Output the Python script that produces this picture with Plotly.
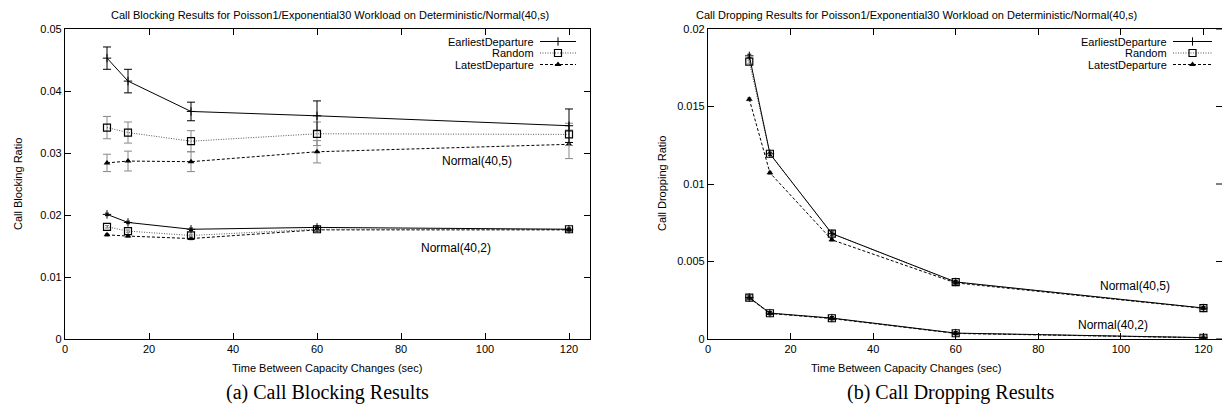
import plotly.graph_objects as go

W, H = 1222, 412

# ---------------- data ----------------
x_vals = [10, 15, 30, 60, 120]

# Call blocking, Normal(40,5)
blk5_ed = [0.0453, 0.0416, 0.0367, 0.0360, 0.0344]
blk5_ed_err = [0.0018, 0.0019, 0.0015, 0.0024, 0.0027]
blk5_rnd = [0.0341, 0.0333, 0.0319, 0.0331, 0.0330]
blk5_rnd_err = [0.0018, 0.0017, 0.0017, 0.0019, 0.0018]
blk5_ld = [0.0284, 0.0287, 0.0286, 0.0302, 0.0314]
blk5_ld_err = [0.0014, 0.0016, 0.0016, 0.0018, 0.0023]
# Call blocking, Normal(40,2)
blk2_ed = [0.0201, 0.0188, 0.0177, 0.0180, 0.0177]
blk2_rnd = [0.0181, 0.0174, 0.0167, 0.0177, 0.0177]
blk2_ld = [0.0168, 0.0166, 0.0162, 0.0176, 0.0176]
blk2_err = [0.0002, 0.0002, 0.0002, 0.0002, 0.0002]

# Call dropping, Normal(40,5)
drp5_ed = [0.01827, 0.01195, 0.0068, 0.00368, 0.00200]
drp5_rnd = [0.01789, 0.01195, 0.0068, 0.00367, 0.00199]
drp5_ld = [0.01547, 0.01072, 0.0064, 0.00362, 0.00198]
# Call dropping, Normal(40,2)
drp2_ed = [0.00268, 0.00167, 0.00135, 0.00038, 0.00009]
drp2_rnd = [0.00267, 0.00166, 0.00134, 0.00037, 0.00008]
drp2_ld = [0.00265, 0.00165, 0.00132, 0.00036, 0.00008]
drp_err = [0.0001, 0.0001, 0.0001, 0.0001, 0.0001]

series_names = ["EarliestDeparture", "Random", "LatestDeparture"]
blk_ticks = [0, 0.01, 0.02, 0.03, 0.04, 0.05]
blk_tick_text = ["0", "0.01", "0.02", "0.03", "0.04", "0.05"]
drp_ticks = [0, 0.005, 0.01, 0.015, 0.02]
drp_tick_text = ["0", "0.005", "0.01", "0.015", "0.02"]
x_ticks = [0, 20, 40, 60, 80, 100, 120]

# ---------------- styles ----------------
FONT = "Liberation Sans, Arial, sans-serif"
SERIF = "Liberation Serif, Times New Roman, serif"
styles = [
    dict(line=dict(color="black", width=1), marker=dict(symbol="cross-thin", size=6, color="black", line=dict(width=1, color="black")), errc="black"),
    dict(line=dict(color="#555", width=1, dash="1px,1.5px"), marker=dict(symbol="square-open", size=7, color="black", line=dict(width=1.2, color="black")), errc="#888"),
    dict(line=dict(color="black", width=1, dash="3px,2px"), marker=dict(symbol="triangle-up", size=6, color="black", line=dict(width=0)), errc="#888"),
]

fig = go.Figure()

def add_series(y, err, style, xa, ya, capw=3):
    fig.add_trace(go.Scatter(
        x=x_vals, y=y, mode="lines+markers", xaxis=xa, yaxis=ya,
        line=style["line"], marker=style["marker"], showlegend=False,
        error_y=dict(type="data", array=err, visible=True, color=style["errc"], thickness=1, width=capw),
    ))

# left plot
for y, e, s in [(blk5_ld, blk5_ld_err, styles[2]), (blk5_rnd, blk5_rnd_err, styles[1]), (blk5_ed, blk5_ed_err, styles[0])]:
    add_series(y, e, s, "x", "y", capw=4)
for y, s in [(blk2_ld, styles[2]), (blk2_rnd, styles[1]), (blk2_ed, styles[0])]:
    add_series(y, blk2_err, s, "x", "y", capw=2)

# right plot
for y, s in [(drp5_ld, styles[2]), (drp5_rnd, styles[1]), (drp5_ed, styles[0])]:
    add_series(y, drp_err, s, "x2", "y2", capw=2)
for y, s in [(drp2_ld, styles[2]), (drp2_rnd, styles[1]), (drp2_ed, styles[0])]:
    add_series(y, drp_err, s, "x2", "y2", capw=2)

# key samples (gnuplot-style: text then sample) on a pixel-coordinate overlay axis
key_rows = [41.5, 53, 64.5]
key_boxes = [(536, 540, 576), (1169, 1173, 1212)]
annotations = []
for (tx, x0, x1) in key_boxes:
    for row, name, s in zip(key_rows, series_names, styles):
        fig.add_trace(go.Scatter(x=[x0, x1], y=[row, row], mode="lines", line=s["line"],
                                 xaxis="x3", yaxis="y3", showlegend=False, hoverinfo="skip"))
        fig.add_trace(go.Scatter(x=[(x0 + x1) / 2], y=[row], mode="markers", marker=s["marker"],
                                 xaxis="x3", yaxis="y3", showlegend=False, hoverinfo="skip"))
        annotations.append(dict(x=tx / W, y=1 - row / H, xref="paper", yref="paper", text=name,
                                showarrow=False, xanchor="right", yanchor="middle",
                                font=dict(family=FONT, size=11, color="black")))

# curve labels
lf = dict(family=FONT, size=12, color="black")
annotations += [
    dict(x=98, y=0.0287, xref="x", yref="y", text="Normal(40,5)", showarrow=False, font=lf),
    dict(x=93, y=0.0147, xref="x", yref="y", text="Normal(40,2)", showarrow=False, font=lf),
    dict(x=103.5, y=0.00343, xref="x2", yref="y2", text="Normal(40,5)", showarrow=False, font=lf),
    dict(x=98, y=0.0009, xref="x2", yref="y2", text="Normal(40,2)", showarrow=False, font=lf),
]

# titles, axis titles, captions
tf = dict(family=FONT, size=11, color="black")
def pann(x, y, text, font=tf, angle=0):
    return dict(x=x / W, y=1 - y / H, xref="paper", yref="paper", text=text, textangle=angle,
                showarrow=False, font=font, xanchor="center", yanchor="middle")
annotations += [
    pann(330, 15, "Call Blocking Results for Poisson1/Exponential30 Workload on Deterministic/Normal(40,s)"),
    pann(916, 15, "Call Dropping Results for Poisson1/Exponential30 Workload on Deterministic/Normal(40,s)"),
    pann(327, 368, "Time Between Capacity Changes (sec)"),
    pann(906, 368, "Time Between Capacity Changes (sec)"),
    pann(18, 184, "Call Blocking Ratio", angle=-90),
    pann(662, 184, "Call Dropping Ratio", angle=-90),
    pann(327, 392, "(a) Call Blocking Results", dict(family=SERIF, size=20, color="black")),
    pann(950, 392, "(b) Call Dropping Results", dict(family=SERIF, size=20, color="black")),
]

# right-side inward ticks of the right plot (its frame lies just past the picture edge)
shapes = [dict(type="line", xref="paper", yref="y2", x0=1 - 6 / W, x1=1.0, y0=v, y1=v,
               line=dict(color="black", width=1)) for v in drp_ticks]

ydom = [1 - 339 / H, 1 - 29 / H]
axcommon = dict(showgrid=False, zeroline=False, showline=True, linecolor="black", linewidth=1.2,
                ticks="inside", ticklen=6, tickcolor="black", tickwidth=1, automargin=False,
                tickfont=dict(family=FONT, size=11, color="black"))

fig.update_layout(
    width=W, height=H, margin=dict(l=0, r=0, t=0, b=0, pad=0, autoexpand=False),
    paper_bgcolor="white", plot_bgcolor="rgba(0,0,0,0)", showlegend=False,
    annotations=annotations, shapes=shapes,
    xaxis=dict(domain=[65 / W, 590 / W], range=[0, 125], anchor="y", tickvals=x_ticks, mirror="ticks", **axcommon),
    yaxis=dict(domain=ydom, range=[0, 0.05], anchor="x", tickvals=blk_ticks, ticktext=blk_tick_text, mirror="ticks", **axcommon),
    xaxis2=dict(domain=[708 / W, 1.0], range=[0, 124.5], anchor="y2", tickvals=x_ticks, mirror="ticks", **axcommon),
    yaxis2=dict(domain=ydom, range=[0, 0.02], anchor="x2", tickvals=drp_ticks, ticktext=drp_tick_text, **axcommon),
    xaxis3=dict(domain=[0, 1], range=[0, W], anchor="y3", visible=False, fixedrange=True),
    yaxis3=dict(domain=[0, 1], range=[H, 0], anchor="x3", visible=False, fixedrange=True),
)

fig.write_html("out.html", config={"displayModeBar": False},
               post_script="document.body.style.margin='0';")
